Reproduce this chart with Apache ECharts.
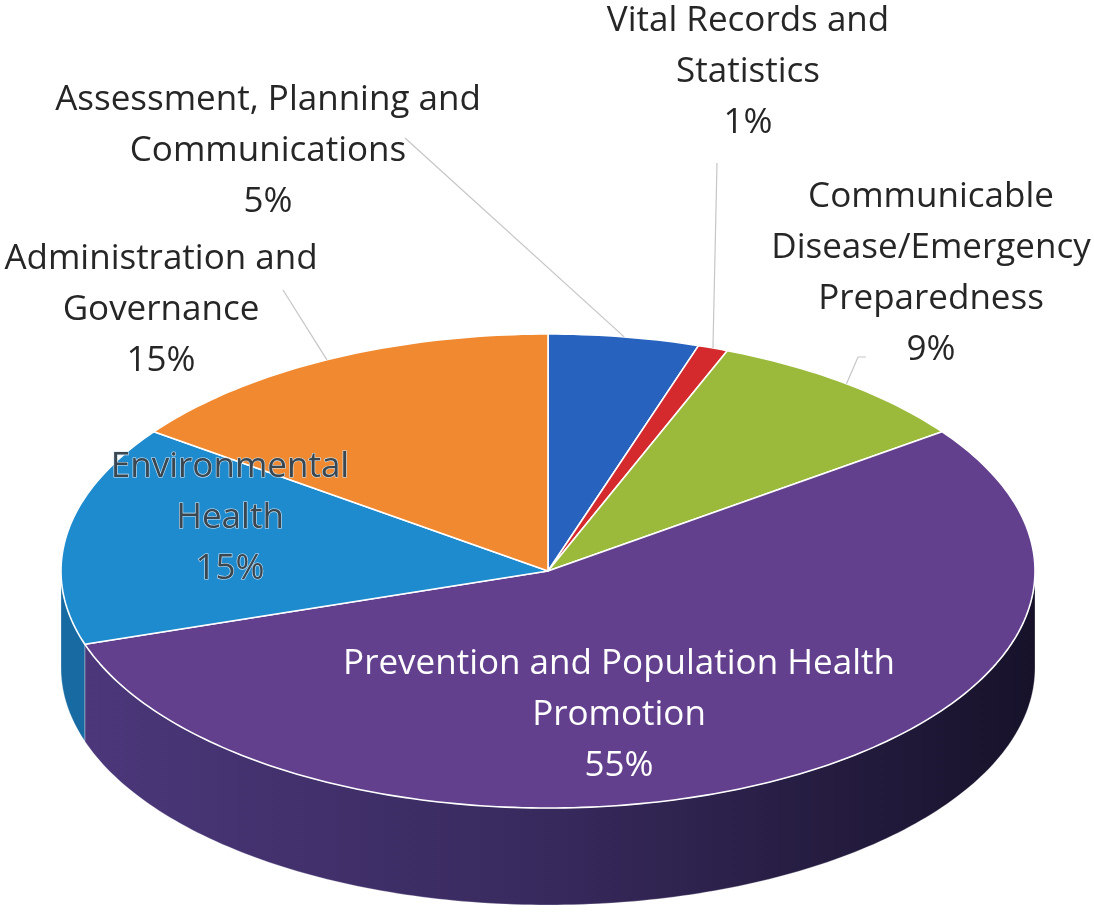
<!DOCTYPE html>
<html>
<head>
<meta charset="utf-8">
<script src="https://cdn.jsdelivr.net/npm/echarts@6/dist/echarts.min.js"></script>
<style>
html,body{margin:0;padding:0;background:#fff;}
#chart{width:1094px;height:916px;}
</style>
</head>
<body>
<div id="chart"></div>
<script>
// ---- data ----
const categories = [
  'Assessment, Planning and Communications',
  'Vital Records and Statistics',
  'Communicable Disease/Emergency Preparedness',
  'Prevention and Population Health Promotion',
  'Environmental Health',
  'Administration and Governance'
];
const values = [5, 1, 9, 55, 15, 15];
const labelTexts = [
  'Assessment, Planning and\nCommunications',
  'Vital Records and\nStatistics',
  'Communicable\nDisease/Emergency\nPreparedness',
  'Prevention and Population Health\nPromotion',
  'Environmental\nHealth',
  'Administration and\nGovernance'
];

// ---- styles / layout ----
const topColors = ['#2762bf', '#d42a2e', '#9bba3c', '#62408e', '#1f8bcf', '#f0892f'];
const sideColors = ['#1c4a91', '#9e1f22', '#72892b',
  null, '#176aa2', '#b8661f'];
const purpleSide = [[0, '#4b377a'], [0.5, '#37295c'], [1, '#17122a']];
const geo = { cx: 548, cy: 571, rx: 487, ry: 237, depth: 97 };
const labelLayout = [
  { x: 268, y: 75, color: '#262626', line: [[405, 138], 'mid'] },
  { x: 748, y: -4, color: '#262626', line: [[717, 163], 'mid'] },
  { x: 931, y: 172, color: '#262626', line: [[866, 357], [858, 357], 'mid'] },
  { x: 619, y: 639, color: '#ffffff' },
  { x: 230, y: 442, color: '#3a4650', stroke: '#cfe6f5' },
  { x: 161, y: 234, color: '#262626', line: [[283, 290], 'mid'] }
];
const FONT = '35px "Open Sans", sans-serif';
const LH = 51;

const total = values.reduce((a, b) => a + b, 0);

function pt(t, dy) {
  return [geo.cx + geo.rx * Math.sin(t), geo.cy - geo.ry * Math.cos(t) + (dy || 0)];
}
function arc(a, b, dy) {
  const pts = [];
  const n = Math.max(2, Math.ceil(Math.abs(b - a) / (Math.PI / 180)));
  for (let i = 0; i <= n; i++) pts.push(pt(a + (b - a) * i / n, dy));
  return pts;
}

function renderItem(params, api) {
  const idx = params.dataIndex;
  let before = 0;
  for (let i = 0; i < idx; i++) before += values[i];
  const v = api.value(0);
  const a = before / total * Math.PI * 2;
  const b = (before + v) / total * Math.PI * 2;
  const children = [];

  // visible side (front half: PI/2 .. 3PI/2)
  const sa = Math.max(a, Math.PI / 2), sb = Math.min(b, Math.PI * 1.5);
  if (sb > sa) {
    const pts = arc(sa, sb, 0).concat(arc(sb, sa, geo.depth));
    const fill = sideColors[idx] ? sideColors[idx]
      : new echarts.graphic.LinearGradient(0, 0, 1, 0, purpleSide.map(s => ({ offset: s[0], color: s[1] })));
    children.push({ type: 'polygon', z2: 1, shape: { points: pts },
      style: { fill: fill, stroke: 'rgba(255,255,255,0.35)', lineWidth: 0.8 } });
  }
  // top face
  const top = [[geo.cx, geo.cy]].concat(arc(a, b, 0));
  children.push({ type: 'polygon', z2: 10, shape: { points: top },
    style: { fill: topColors[idx], stroke: '#ffffff', lineWidth: 1.6, lineJoin: 'round' } });

  // label
  const L = labelLayout[idx];
  const pct = Math.round(v / total * 100) + '%';
  const txt = {
    type: 'text', z2: 30,
    style: { text: labelTexts[idx] + '\n' + pct, x: L.x, y: L.y, font: FONT,
      fill: L.color, align: 'center', verticalAlign: 'top', lineHeight: LH }
  };
  if (L.stroke) { txt.style.stroke = L.stroke; txt.style.lineWidth = 1.2; }
  children.push(txt);
  if (L.line) {
    const mid = (a + b) / 2;
    const pts = L.line.map(p => p === 'mid' ? pt(mid, 0) : p);
    children.push({ type: 'polyline', z2: 20, shape: { points: pts },
      style: { stroke: '#c6c6c6', lineWidth: 1.2, fill: null } });
  }
  return { type: 'group', children: children };
}

const chart = echarts.init(document.getElementById('chart'), null, { renderer: 'canvas' });
chart.setOption({
  backgroundColor: '#ffffff',
  animation: false,
  series: [{
    type: 'custom',
    coordinateSystem: 'none',
    renderItem: renderItem,
    data: values.map((v, i) => ({ name: categories[i], value: [v] }))
  }]
});
</script>
</body>
</html>
